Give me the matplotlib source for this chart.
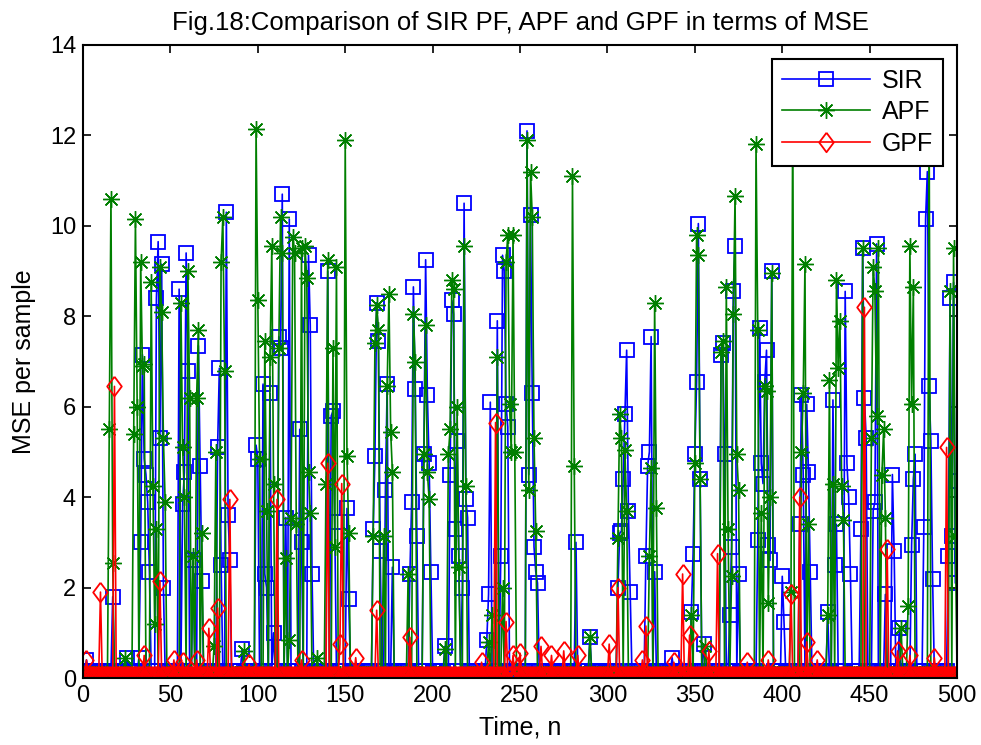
"""Fig.18 - MSE per sample of SIR PF, APF and GPF over 500 time steps."""
import numpy as np
import matplotlib
matplotlib.use("Agg")
import matplotlib.pyplot as plt

plt.rcParams["font.family"] = ["Liberation Sans", "DejaVu Sans"]

N_STEPS = 500

# near-zero floor each filter sits at between error spikes
SIR_FLOOR = 0.15
APF_FLOOR = 0.10
GPF_FLOOR = 0.05

# (time step, MSE) for every point that rises visibly above the floor
sir_spikes = [
    (2, 0.4), (17, 1.8), (25, 0.45), (32, 0.45), (33, 3.0), (34, 7.15), (35, 4.85),
    (36, 4.5), (37, 3.9), (38, 2.35), (42, 8.4), (43, 9.65), (44, 5.3), (45, 9.15),
    (46, 2.0), (55, 8.6), (57, 3.85), (58, 4.55), (59, 9.4), (60, 6.8), (63, 2.6),
    (66, 7.35), (67, 4.7), (68, 2.15), (77, 5.1), (78, 6.85), (79, 2.5), (82, 10.3),
    (83, 3.6), (84, 2.6), (91, 0.65), (99, 5.15), (100, 4.85), (103, 6.5), (104, 2.3),
    (105, 2.0), (107, 6.3), (109, 1.0), (112, 7.55), (113, 7.3), (114, 10.7),
    (116, 3.55), (118, 10.15), (124, 5.5), (125, 3.0), (129, 9.35), (130, 7.8),
    (131, 2.3), (140, 9.0), (142, 5.8), (143, 5.9), (144, 3.45), (151, 3.75),
    (152, 1.75), (166, 3.3), (167, 4.9), (168, 8.3), (169, 7.45), (170, 2.8),
    (173, 4.15), (174, 6.5), (177, 2.45), (187, 2.3), (188, 3.9), (189, 8.65),
    (190, 6.4), (191, 3.15), (195, 4.95), (196, 9.25), (197, 6.25), (198, 4.75),
    (199, 2.35), (207, 0.7), (210, 4.5), (211, 8.35), (212, 8.05), (213, 3.3),
    (214, 5.25), (215, 2.7), (217, 2.0), (218, 10.5), (219, 3.95), (220, 3.55),
    (231, 0.85), (232, 1.85), (233, 6.1), (237, 7.9), (239, 2.7), (240, 9.35),
    (241, 9.0), (242, 6.05), (243, 5.55), (254, 12.1), (255, 4.5), (256, 10.25),
    (257, 6.3), (258, 2.9), (259, 2.35), (260, 2.1), (282, 3.0), (290, 0.9),
    (306, 2.0), (307, 3.2), (308, 3.25), (309, 4.4), (310, 5.85), (311, 7.25),
    (312, 3.7), (313, 1.9), (322, 2.7), (323, 4.7), (324, 5.0), (325, 7.55),
    (327, 2.35), (337, 0.45), (348, 1.45), (349, 2.75), (350, 4.95), (351, 6.55),
    (352, 10.05), (353, 4.4), (355, 0.75), (365, 7.15), (366, 7.4), (367, 4.95),
    (370, 1.4), (371, 2.9), (372, 8.55), (373, 9.55), (375, 2.3), (386, 3.05),
    (387, 7.75), (388, 4.75), (389, 4.3), (390, 6.55), (391, 7.25), (392, 2.95),
    (393, 2.6), (394, 9.0), (400, 2.25), (401, 1.25), (410, 3.4), (411, 6.25),
    (412, 4.5), (414, 6.05), (415, 4.55), (416, 2.35), (426, 1.45), (429, 6.15),
    (430, 2.5), (431, 3.4), (436, 8.55), (437, 4.75), (438, 4.0), (439, 2.3),
    (445, 3.3), (446, 9.5), (447, 6.2), (448, 5.3), (452, 3.7), (453, 3.9),
    (454, 9.6), (459, 1.85), (463, 4.5), (464, 2.8), (467, 1.1), (474, 2.95),
    (475, 4.4), (476, 4.95), (481, 3.35), (482, 10.15), (483, 11.2), (484, 6.45),
    (485, 5.25), (486, 2.2), (495, 2.7), (496, 8.4), (497, 3.15), (498, 8.75),
    (499, 2.1), (500, 4.35),
]

apf_spikes = [
    (15, 5.5), (16, 10.6), (17, 2.55), (24, 0.45), (29, 5.4), (30, 10.15), (31, 6.0),
    (33, 9.2), (34, 6.9), (35, 6.95), (39, 8.75), (40, 4.25), (41, 1.2), (42, 3.3),
    (44, 9.1), (45, 8.1), (46, 5.3), (47, 3.9), (56, 8.3), (57, 5.1), (58, 4.0),
    (60, 9.0), (61, 6.2), (63, 2.7), (65, 6.2), (66, 7.7), (68, 3.2), (75, 0.7),
    (76, 5.0), (79, 9.2), (80, 10.2), (81, 6.8), (92, 0.6), (99, 12.15), (100, 8.35),
    (101, 4.85), (104, 7.45), (105, 3.7), (107, 7.1), (108, 9.55), (109, 4.3),
    (112, 7.3), (113, 10.2), (114, 9.4), (116, 2.65), (118, 0.85), (119, 3.55),
    (120, 9.75), (121, 9.4), (122, 3.4), (125, 9.5), (127, 9.55), (128, 8.85),
    (129, 4.55), (130, 3.65), (134, 0.45), (139, 4.3), (140, 9.25), (143, 7.3),
    (144, 2.9), (145, 9.1), (150, 11.9), (151, 4.9), (152, 3.2), (166, 3.15),
    (167, 7.4), (168, 8.25), (169, 7.7), (172, 3.15), (174, 6.45), (175, 8.5),
    (176, 5.45), (177, 4.55), (186, 2.3), (189, 8.05), (190, 7.0), (195, 4.95),
    (196, 7.8), (197, 4.55), (198, 3.95), (207, 0.65), (209, 4.95), (210, 5.5),
    (211, 8.8), (212, 8.6), (214, 6.0), (215, 2.45), (218, 9.55), (219, 4.25),
    (232, 0.8), (234, 1.4), (237, 7.1), (240, 2.0), (242, 9.2), (243, 9.8),
    (244, 6.05), (245, 5.0), (246, 9.8), (247, 5.0), (254, 11.9), (255, 4.15),
    (256, 11.2), (257, 10.2), (258, 5.3), (259, 3.25), (280, 11.1), (281, 4.7),
    (290, 0.9), (306, 3.1), (307, 5.85), (308, 5.3), (310, 5.05), (311, 3.7),
    (324, 2.7), (325, 4.65), (327, 8.3), (328, 3.75), (348, 1.4), (350, 4.75),
    (351, 9.8), (352, 9.35), (353, 4.4), (356, 0.7), (365, 7.2), (366, 7.45),
    (368, 8.65), (369, 3.3), (371, 2.25), (372, 8.05), (373, 10.65), (374, 4.95),
    (375, 4.15), (385, 11.8), (386, 7.7), (388, 3.65), (390, 6.45), (391, 6.35),
    (392, 1.65), (393, 4.0), (394, 8.95), (405, 1.9), (406, 12.8), (411, 5.0),
    (412, 6.3), (413, 9.15), (415, 3.4), (426, 1.4), (427, 6.6), (429, 4.3),
    (431, 8.8), (432, 6.85), (433, 7.9), (434, 4.25), (435, 3.5), (446, 9.5),
    (451, 5.3), (452, 9.1), (453, 8.55), (454, 5.8), (455, 9.5), (457, 4.5),
    (458, 5.5), (459, 3.55), (468, 1.1), (472, 1.6), (473, 9.55), (474, 6.05),
    (475, 8.65), (484, 12.6), (496, 8.55), (498, 9.5), (499, 3.15),
]

gpf_spikes = [
    (2, 0.4), (10, 1.9), (18, 6.45), (35, 0.5), (44, 2.15), (52, 0.4), (57, 0.35),
    (65, 0.4), (72, 1.1), (77, 1.55), (84, 3.95), (95, 0.3), (111, 3.95), (125, 0.4),
    (140, 4.75), (147, 0.75), (148, 4.3), (156, 0.45), (168, 1.5), (187, 0.9),
    (228, 0.35), (236, 5.65), (242, 1.25), (246, 0.5), (250, 0.55), (262, 0.7),
    (268, 0.5), (275, 0.6), (283, 0.5), (301, 0.75), (306, 2.0), (320, 0.4),
    (322, 1.15), (338, 0.35), (343, 2.3), (347, 0.95), (358, 0.6), (363, 2.75),
    (380, 0.35), (392, 0.4), (405, 1.85), (410, 4.0), (414, 0.8), (420, 0.4),
    (447, 8.2), (460, 2.85), (466, 0.6), (473, 0.5), (487, 0.45), (494, 5.1),
]

XTICKS = list(range(0, 501, 50))
YTICKS = list(range(0, 15, 2))

# MATLAB-style markers: 8-spoke asterisk and a slightly narrow diamond
ASTERISK = (8, 2, 0)
DIAMOND = [(0, 1), (0.75, 0), (0, -1), (-0.75, 0), (0, 1)]


def build_series(floor, spikes):
    vals = np.full(N_STEPS, floor)
    for step, mse in spikes:
        vals[step - 1] = mse
    return vals


def main():
    t = np.arange(1, N_STEPS + 1)
    sir = build_series(SIR_FLOOR, sir_spikes)
    apf = build_series(APF_FLOOR, apf_spikes)
    gpf = build_series(GPF_FLOOR, gpf_spikes)

    fig = plt.figure(figsize=(9.81, 7.45), dpi=100)
    ax = fig.add_axes([0.0846, 0.0899, 0.891, 0.8497])

    ax.plot(t, sir, color="#0000ff", lw=1.2, marker="s", ms=10.5, mfc="none",
            mec="#0000ff", mew=1.3, label="SIR")
    ax.plot(t, apf, color="#007f00", lw=1.2, marker=ASTERISK, ms=12,
            mec="#007f00", mew=1.0, label="APF")
    ax.plot(t, gpf, color="#ff0000", lw=1.2, marker=DIAMOND, ms=14, mfc="none",
            mec="#ff0000", mew=1.3, label="GPF")

    ax.set_xlim(0, 500)
    ax.set_ylim(0, 14)
    ax.set_xticks(XTICKS)
    ax.set_yticks(YTICKS)
    ax.tick_params(direction="in", top=True, right=True, length=6, width=1.2,
                   labelsize=17, pad=5)
    for side in ax.spines.values():
        side.set_linewidth(1.5)

    ax.set_xlabel("Time, n", fontsize=18, labelpad=6)
    ax.set_ylabel("MSE per sample", fontsize=18, labelpad=10)
    ax.set_title("Fig.18:Comparison of SIR PF, APF and GPF in terms of MSE",
                 fontsize=18.5, pad=11)

    leg = ax.legend(loc="upper right", fontsize=18, handlelength=3.5,
                    fancybox=False, framealpha=1, edgecolor="black",
                    borderaxespad=0.55, labelspacing=0.3, handletextpad=0.5,
                    borderpad=0.4)
    leg.get_frame().set_linewidth(1.5)

    fig.savefig("out.png", dpi=100)
    plt.close(fig)


if __name__ == "__main__":
    main()
